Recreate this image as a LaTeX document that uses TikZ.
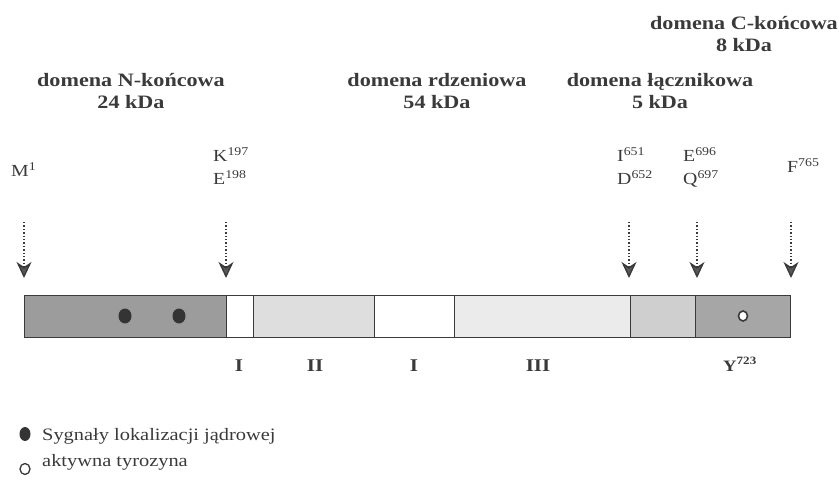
\documentclass[tikz,border=0pt]{standalone}
\usepackage{fontspec}
\setmainfont[FakeStretch=1.17]{Liberation Serif}
\usetikzlibrary{arrows.meta}
\definecolor{ink}{HTML}{3A3A3A}
\definecolor{nterm}{HTML}{9C9C9C}
\definecolor{segII}{HTML}{DEDEDE}
\definecolor{segIII}{HTML}{EBEBEB}
\definecolor{linker}{HTML}{CFCFCF}
\definecolor{cterm}{HTML}{A6A6A6}
\begin{document}
\begin{tikzpicture}[x=1bp,y=-1bp,
  hdr/.style={font=\fontsize{19}{22}\selectfont\bfseries, text=ink, align=center, inner sep=0pt},
  res/.style={font=\fontsize{17}{19}\selectfont, text=ink, inner sep=0pt, anchor=base west},
  roman/.style={font=\fontsize{18}{20}\selectfont\bfseries, text=ink, inner sep=0pt, anchor=base},
  leg/.style={font=\fontsize{17.5}{19}\selectfont, text=ink, inner sep=0pt, anchor=base west},
  seg/.style={draw=ink, line width=1.3bp},
  ptr/.style={draw=ink, dotted, line width=1.4bp, -{Stealth[length=16bp,width=15bp,inset=5bp,fill=ink!85]}},
  nls/.style={fill=ink!90!black, draw=none},
  tyr/.style={fill=white, draw=ink, line width=1.6bp}]
\useasboundingbox (0,0) rectangle (839,484);

% domain headers
\node[hdr] (hN) at (131,91) {domena N-końcowa\\24 kDa};
\node[hdr] (hR) at (437,91) {domena rdzeniowa\\54 kDa};
\node[hdr] (hL) at (660,91) {domena łącznikowa\\5 kDa};
\node[hdr] (hC) at (744,34) {domena C-końcowa\\8 kDa};

% residue labels
\node[res] (M1) at (11,177) {M\textsuperscript{1}};
\node[res] (K197) at (213,162) {K\textsuperscript{197}};
\node[res] (E198) at (213,185) {E\textsuperscript{198}};
\node[res] (I651) at (617,162) {I\textsuperscript{651}};
\node[res] (D652) at (617,185) {D\textsuperscript{652}};
\node[res] (E696) at (683,162) {E\textsuperscript{696}};
\node[res] (Q697) at (683,185) {Q\textsuperscript{697}};
\node[res] (F765) at (787,173) {F\textsuperscript{765}};

% bar segments
\node[seg, fill=nterm, minimum width=202bp, minimum height=42bp, inner sep=0pt, anchor=north west] (sN) at (24,295) {};
\node[seg, fill=white, minimum width=27bp, minimum height=42bp, inner sep=0pt, anchor=north west] (s1) at (226,295) {};
\node[seg, fill=segII, minimum width=121bp, minimum height=42bp, inner sep=0pt, anchor=north west] (s2) at (253,295) {};
\node[seg, fill=white, minimum width=80bp, minimum height=42bp, inner sep=0pt, anchor=north west] (s3) at (374,295) {};
\node[seg, fill=segIII, minimum width=176bp, minimum height=42bp, inner sep=0pt, anchor=north west] (s4) at (454,295) {};
\node[seg, fill=linker, minimum width=65bp, minimum height=42bp, inner sep=0pt, anchor=north west] (sL) at (630,295) {};
\node[seg, fill=cterm, minimum width=95bp, minimum height=42bp, inner sep=0pt, anchor=north west] (sC) at (695,295) {};

% markers in bar
\fill[nls] (125,316) ellipse [x radius=6.5, y radius=7.5];
\fill[nls] (179,316) ellipse [x radius=6.5, y radius=7.5];
\draw[tyr] (743,316) ellipse [x radius=4.5, y radius=5];

% arrows
\coordinate (t1) at (24,222);  \coordinate (p1) at (24,278);
\coordinate (t2) at (226,222); \coordinate (p2) at (226,278);
\coordinate (t3) at (629,222); \coordinate (p3) at (629,278);
\coordinate (t4) at (697,222); \coordinate (p4) at (697,278);
\coordinate (t5) at (791,222); \coordinate (p5) at (791,278);
\draw[ptr] (t1) -- (p1);
\draw[ptr] (t2) -- (p2);
\draw[ptr] (t3) -- (p3);
\draw[ptr] (t4) -- (p4);
\draw[ptr] (t5) -- (p5);

% region labels
\node[roman] (rI) at (239,371) {I};
\node[roman] (rII) at (315,371) {II};
\node[roman] (rI2) at (414,371) {I};
\node[roman] (rIII) at (538,371) {III};
\node[res, font=\fontsize{16}{18}\selectfont\bfseries, anchor=base] (Y723) at (740,371) {Y\textsuperscript{723}};

% legend
\fill[nls] (25,434) ellipse [x radius=5.5, y radius=7];
\node[leg] (legA) at (42,440) {Sygnały lokalizacji jądrowej};
\draw[tyr, line width=1.3bp] (25,469) ellipse [x radius=5, y radius=5.5];
\node[leg] (legB) at (42,466) {aktywna tyrozyna};
\end{tikzpicture}
\end{document}
